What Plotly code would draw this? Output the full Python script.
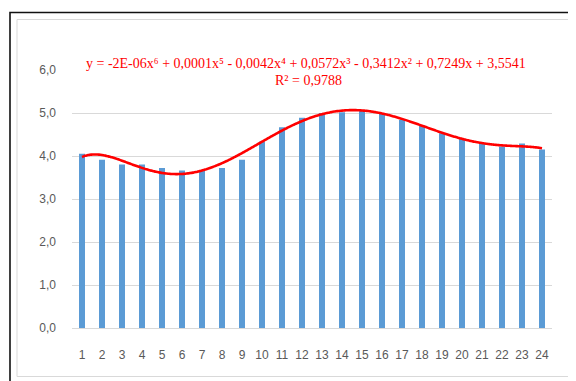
import numpy as np
import plotly.graph_objects as go

categories = list(range(1, 25))
values = [4.05, 3.91, 3.80, 3.80, 3.72, 3.66, 3.66, 3.72, 3.91, 4.34, 4.67, 4.89,
          5.00, 5.02, 5.05, 5.00, 4.84, 4.71, 4.53, 4.40, 4.30, 4.22, 4.29, 4.15]
y_ticks = [0, 1, 2, 3, 4, 5, 6]
y_tick_labels = ["0,0", "1,0", "2,0", "3,0", "4,0", "5,0", "6,0"]
equation = ("y = -2E-06x⁶ + 0,0001x⁵ - 0,0042x⁴ + "
            "0,0572x³ - 0,3412x² + 0,7249x + 3,5541")
r2_text = "R² = 0,9788"

# 6th-order polynomial trendline fitted to the data
coef = np.polyfit(categories, values, 6)
xs = np.linspace(1, 24, 300)
ys = np.polyval(coef, xs)

# page has an 8px body margin; work in screen pixels and subtract it
OFF = 8
W, H = 576 - OFF, 381 - OFF
L, R, T, B = 72 - OFF, 552 - OFF, 70 - OFF, 328 - OFF
pw, ph = R - L, B - T


def px(x):
    return (x - OFF - L) / pw


def py(y):
    return (B - (y - OFF)) / ph


fig = go.Figure()
fig.add_trace(go.Bar(x=categories, y=values, width=0.3,
                     marker=dict(color="#5b9bd5", line=dict(width=0)),
                     showlegend=False, hoverinfo="skip"))
fig.add_trace(go.Scatter(x=xs, y=ys, mode="lines",
                         line=dict(color="#ff0000", width=2.6, shape="spline"),
                         showlegend=False, hoverinfo="skip"))

fig.update_layout(
    width=W, height=H,
    margin=dict(l=L, r=W - R, t=T, b=H - B),
    paper_bgcolor="white", plot_bgcolor="white",
    xaxis=dict(range=[0.5, 24.5], tickmode="array", tickvals=categories,
               ticktext=[str(c) for c in categories], showgrid=False,
               zeroline=False, showline=False, ticks="",
               ticklabelstandoff=18,
               tickfont=dict(family="Liberation Sans", size=12, color="#595959")),
    yaxis=dict(range=[0, 6], tickmode="array", tickvals=y_ticks,
               ticktext=y_tick_labels, showgrid=True, gridcolor="#d9d9d9",
               gridwidth=1, zeroline=True, zerolinecolor="#d9d9d9",
               zerolinewidth=1, showline=False, ticks="",
               ticklabelstandoff=15,
               tickfont=dict(family="Liberation Sans", size=12, color="#595959")),
    shapes=[
        dict(type="rect", xref="paper", yref="paper",
             x0=px(17), x1=px(600), y0=py(376.5), y1=py(19.5),
             line=dict(color="#d9d9d9", width=1), fillcolor="rgba(0,0,0,0)",
             layer="below"),
        dict(type="path", xref="paper", yref="paper",
             path=f"M {px(10)},{py(400)} L {px(10)},{py(12.5)} L {px(600)},{py(12.5)}",
             line=dict(color="#111111", width=1.6)),
    ],
    annotations=[
        dict(text=equation, xref="paper", yref="paper", x=px(306), y=py(64),
             xanchor="center", yanchor="middle", showarrow=False,
             font=dict(family="Liberation Serif", size=14, color="#ff0000")),
        dict(text=r2_text, xref="paper", yref="paper", x=px(308), y=py(81),
             xanchor="center", yanchor="middle", showarrow=False,
             font=dict(family="Liberation Serif", size=14, color="#ff0000")),
    ],
)

fig.write_html("out.html")
